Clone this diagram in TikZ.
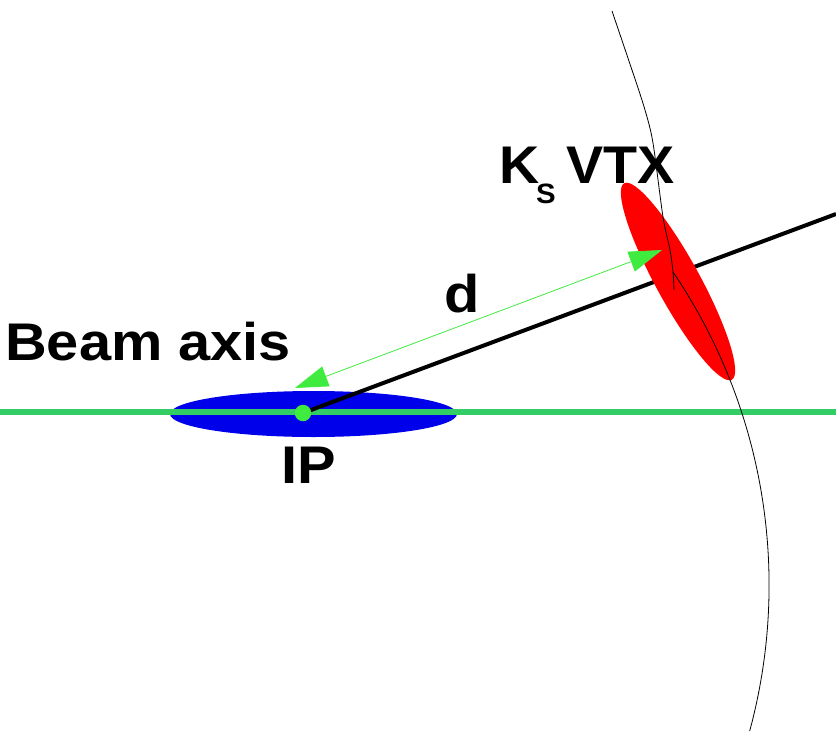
\documentclass[tikz,border=0pt]{standalone}
\usepackage{fontspec}
\setmainfont{Liberation Sans}
\usetikzlibrary{shapes.geometric,arrows.meta}
\definecolor{beamgreen}{RGB}{50,205,100}
\definecolor{arrowgreen}{RGB}{64,235,64}
\definecolor{ipblue}{RGB}{0,0,235}
\definecolor{vtxred}{RGB}{255,0,0}
\tikzset{
  lbl/.style={anchor=base west, inner sep=0pt, font=\fontsize{53}{60}\selectfont\bfseries},
  sublbl/.style={anchor=base west, inner sep=0pt, font=\fontsize{28}{32}\selectfont\bfseries},
  track/.style={line width=0.8pt, black},
}
\begin{document}
\begin{tikzpicture}[x=1pt,y=-1pt]
\useasboundingbox (0,0) rectangle (836,731);
% IP ellipse
\node[ellipse, fill=ipblue, inner sep=0pt, minimum width=287, minimum height=46] (ipell) at (313.5,414) {};
% beam axis
\coordinate (bl) at (0,412);
\coordinate (br) at (836,412);
\draw[beamgreen, line width=6pt] (bl) -- (br);
% IP point and flight line
\coordinate (ip) at (303,413);
\coordinate (lineend) at (836,214);
\draw[black, line width=4pt] (ip) -- (lineend);
\node[circle, fill=arrowgreen, inner sep=0pt, minimum size=16.5] (ipdot) at (ip) {};
% Ks vertex ellipse
\node[ellipse, fill=vtxred, inner sep=0pt, minimum width=224, minimum height=44, rotate=-61.3] (vtx) at (678,281.5) {};
% thin curved track (two arcs)
\draw[track] plot[smooth] coordinates {(612,11) (633,73) (645,110) (653,143) (663,217) (670,250) (673,272) (674,290)};
\draw[track] plot[domain=-34.1:15.3, samples=80, smooth] ({210.8+558.3*cos(\x)}, {585.1+558.3*sin(\x)});
% distance arrow d
\coordinate (dA) at (295,388);
\coordinate (dB) at (662,250);
\draw[arrowgreen, line width=0.8pt, {Triangle[length=33pt,width=21pt]}-{Triangle[length=33pt,width=21pt]}] (dA) -- (dB);
% labels
\node[lbl] (beamlbl) at (5,360) {\scalebox{1.09}[1]{Beam axis}};
\node[lbl] (iplbl) at (281,483) {\scalebox{1.09}[1]{IP}};
\node[lbl] (dlbl) at (444,312) {\scalebox{1.09}[1]{d}};
\node[lbl] (klbl) at (499,183) {\scalebox{1.05}[1]{K}};
\node[sublbl] (slbl) at (536,203) {\scalebox{1.05}[1]{S}};
\node[lbl] (vtxlbl) at (566,183) {\scalebox{1.05}[1]{VTX}};
\end{tikzpicture}
\end{document}
